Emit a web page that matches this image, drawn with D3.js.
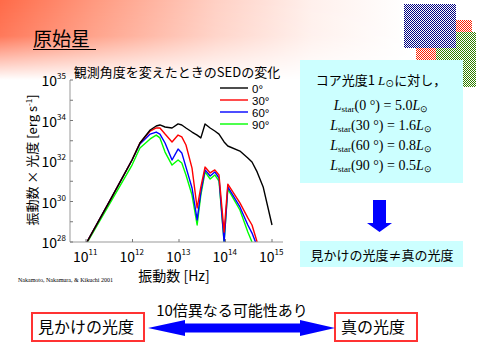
<!DOCTYPE html>
<html><head><meta charset="utf-8">
<script src="https://cdn.jsdelivr.net/npm/d3@7"></script>
<style>body{margin:0;background:#fff}svg{display:block}</style>
</head><body><svg id="c" width="480" height="360"></svg>
<script>
// ---- data (log10 values) ----
const logNu = [11.02,11.52,11.99,12.16,12.38,12.51,12.59,12.70,12.85,12.98,13.06,13.15,13.28,13.39,13.47,13.56,13.67,13.77,13.86,13.97,14.05,14.31,14.48,14.57,14.68,14.81,15.00];
const angles = ["0°","30°","60°","90°"];
const colors = ["#000000","#ff0000","#0000ff","#00ff00"];
const sed0  = [28.00,30.07,32.05,32.89,33.53,33.73,33.78,33.68,33.63,33.83,33.78,33.63,33.43,33.28,33.14,33.83,33.63,33.48,33.33,32.94,32.74,32.49,32.15,31.95,31.46,30.72,28.84];
const sed30 = [28.00,30.07,32.05,32.89,33.48,33.63,33.63,33.33,32.94,33.28,33.19,32.79,31.65,29.68,30.72,31.70,31.41,31.56,31.31,28.49,30.86,29.93,29.19,28.84,28.00,null,null];
const sed60 = [28.00,30.07,32.05,32.84,33.33,33.43,33.33,32.89,32.05,32.59,32.40,31.70,30.67,29.09,30.47,31.56,31.26,31.46,31.16,28.00,30.72,29.73,28.84,28.44,27.80,null,null];
const sed90 = [27.95,29.93,31.80,32.64,33.09,33.28,33.14,32.44,31.80,32.05,31.90,31.31,30.32,28.84,30.32,31.46,31.11,31.31,31.01,28.00,30.62,29.58,28.49,28.00,null,null,null];
const xTickExp = [11,12,13,14,15];
const xTickLabels = ["11","12","13","14","15"];
const yTickExp = [28,30,32,34,36];
const yTickLabels = ["28","30","32","34","35"];
const lumLines = [
  {ang:"(0 °)", val:"= 5.0"},
  {ang:"(30 °)", val:"= 1.6"},
  {ang:"(60 °)", val:"= 0.8"},
  {ang:"(90 °)", val:"= 0.5"}
];
const series = [sed0, sed30, sed60, sed90];

// ---- drawing ----
const svg = d3.select("#c");
const JP = "'Noto Sans CJK JP', sans-serif";
const defs = svg.append("defs");

// background gradient
const gh = defs.append("linearGradient").attr("id","gh").attr("x1",0).attr("x2",1).attr("y1",0).attr("y2",0);
[[0,"#ff6a48"],[0.2,"#ff9a80"],[0.45,"#ffd0c4"],[0.65,"#fff0ec"],[0.85,"#ffffff"]].forEach(s=>gh.append("stop").attr("offset",s[0]).attr("stop-color",s[1]));
const gv = defs.append("linearGradient").attr("id","gv").attr("x1",0).attr("x2",0).attr("y1",0).attr("y2",1);
[[0,"#fff",1],[0.45,"#fff",0.9],[1,"#fff",0]].forEach(s=>gv.append("stop").attr("offset",s[0]).attr("stop-color",s[1]).attr("stop-opacity",s[2]));
defs.append("mask").attr("id","mv").append("rect").attr("width",480).attr("height",80).attr("fill","url(#gv)");
svg.append("rect").attr("width",480).attr("height",80).attr("fill","url(#gh)").attr("mask","url(#mv)");

// checker patterns
function pat(id,col){
  const p = defs.append("pattern").attr("id",id).attr("width",2).attr("height",2).attr("patternUnits","userSpaceOnUse");
  p.append("rect").attr("width",1).attr("height",1).attr("fill",col);
  p.append("rect").attr("x",1).attr("y",1).attr("width",1).attr("height",1).attr("fill",col);
}
pat("pb","#000080"); pat("pr","#ff2000"); pat("pg","#308000");
[[404,4,52,44,"pb"],[456,20,16,12,"pr"],[456,32,20,16,"pg"],[416,48,20,12,"pr"],[436,48,40,12,"pg"],[463,60,13,27,"pg"]]
  .forEach(r=>svg.append("rect").attr("x",r[0]).attr("y",r[1]).attr("width",r[2]).attr("height",r[3]).attr("fill",`url(#${r[4]})`));

// page title
svg.append("text").attr("x",33).attr("y",46).attr("font-family",JP).attr("font-size",19).attr("fill","#000").text("原始星");
svg.append("line").attr("x1",33).attr("x2",96).attr("y1",49.5).attr("y2",49.5).attr("stroke","#000").attr("stroke-width",1);

// chart
const x = d3.scaleLog().domain([1e11,1e15]).range([86,272]);
const y = d3.scaleLog().domain([1e28,1e36]).range([242,80]);
const plotL = 70, plotR = 283, plotT = 80, plotB = 242;

svg.append("text").attr("x",177).attr("y",77).attr("text-anchor","middle").attr("font-family",JP).attr("font-size",13).text("観測角度を変えたときのSEDの変化");

defs.append("clipPath").attr("id","clip").append("rect").attr("x",plotL).attr("y",plotT).attr("width",plotR-plotL).attr("height",plotB-plotT);

const line = d3.line().defined(d=>d[1]!=null).x(d=>x(Math.pow(10,d[0]))).y(d=>y(Math.pow(10,d[1])));
const g = svg.append("g").attr("clip-path","url(#clip)");
series.slice().reverse().forEach((s,i)=>{
  const k = series.length-1-i;
  g.append("path").datum(logNu.map((v,j)=>[v,s[j]])).attr("d",line).attr("fill","none").attr("stroke",colors[k]).attr("stroke-width",1.4).attr("stroke-linejoin","round");
});

// axes frame
svg.append("line").attr("x1",plotL).attr("x2",plotL).attr("y1",plotT).attr("y2",plotB).attr("stroke","#999").attr("stroke-width",1);
svg.append("line").attr("x1",plotL).attr("x2",plotR).attr("y1",plotB).attr("y2",plotB).attr("stroke","#999").attr("stroke-width",1);
// y ticks each decade
d3.range(28,37).forEach(e=>{
  svg.append("line").attr("x1",plotL).attr("x2",plotL+3).attr("y1",y(Math.pow(10,e))).attr("y2",y(Math.pow(10,e))).attr("stroke","#777");
});
yTickExp.forEach((e,i)=>{
  const t = svg.append("text").attr("x",66).attr("y",y(Math.pow(10,e))+6).attr("text-anchor","end").attr("font-family",JP).attr("font-size",14);
  t.append("tspan").text("10");
  t.append("tspan").attr("dy",-7).attr("font-size",8).text(yTickLabels[i]);
});
xTickExp.forEach((e,i)=>{
  const xx = x(Math.pow(10,e));
  svg.append("line").attr("x1",xx).attr("x2",xx).attr("y1",plotB).attr("y2",plotB-3).attr("stroke","#777");
  const t = svg.append("text").attr("x",xx-13).attr("y",262).attr("font-family",JP).attr("font-size",14);
  t.append("tspan").text("10");
  t.append("tspan").attr("dy",-7).attr("font-size",8).text(xTickLabels[i]);
});
svg.append("text").attr("x",174).attr("y",281).attr("text-anchor","middle").attr("font-family",JP).attr("font-size",14).text("振動数 [Hz]");
const yl = svg.append("text").attr("transform","translate(37,160) rotate(-90)").attr("text-anchor","middle").attr("font-family",JP).attr("font-size",13);
yl.append("tspan").text("振動数 × 光度 [erg s");
yl.append("tspan").attr("dy",-5).attr("font-size",8).text("-1");
yl.append("tspan").attr("dy",5).text("]");

// legend
angles.forEach((a,i)=>{
  const ly = 88 + i*12;
  svg.append("line").attr("x1",220).attr("x2",248).attr("y1",ly).attr("y2",ly).attr("stroke",colors[i]).attr("stroke-width",1.4);
  svg.append("text").attr("x",252).attr("y",ly+4.5).attr("font-family","'Liberation Sans', sans-serif").attr("font-size",11.5).text(a);
});

svg.append("text").attr("x",18).attr("y",282).attr("font-family","'Liberation Serif', serif").attr("font-size",6).text("Nakamoto, Nakamura, & Kikuchi 2001");

// info box
svg.append("rect").attr("x",300).attr("y",60).attr("width",163).attr("height",123).attr("fill","#ccffff");
const t0 = svg.append("text").attr("x",381).attr("y",85).attr("text-anchor","middle").attr("font-family",JP).attr("font-size",13);
t0.append("tspan").text("コア光度1 ");
t0.append("tspan").attr("font-family","'Liberation Serif', serif").attr("font-style","italic").text("L");
t0.append("tspan").attr("font-size",9).attr("dy",2).text("⊙");
t0.append("tspan").attr("dy",-2).text("に対し，");
lumLines.forEach((l,i)=>{
  const t = svg.append("text").attr("x",381).attr("y",110+i*20).attr("text-anchor","middle").attr("font-family","'Liberation Serif', serif").attr("font-size",14);
  t.append("tspan").attr("font-style","italic").text("L");
  t.append("tspan").attr("font-size",9).attr("dy",2).text("star");
  t.append("tspan").attr("dy",-2).text(l.ang+"  "+l.val);
  t.append("tspan").attr("font-style","italic").text("L");
  t.append("tspan").attr("font-size",9).attr("dy",2).text("⊙");
});

// down arrow
svg.append("path").attr("d","M373,200 H386 V223 H392 L379.5,232 L367,223 H373 Z").attr("fill","#0000ff");

svg.append("rect").attr("x",300).attr("y",241).attr("width",163).attr("height",26).attr("fill","#ccffff");
svg.append("text").attr("x",382).attr("y",260).attr("text-anchor","middle").attr("font-family",JP).attr("font-size",13).text("見かけの光度≠真の光度");

// bottom
svg.append("text").attr("x",232).attr("y",316).attr("text-anchor","middle").attr("font-family",JP).attr("font-size",15).text("10倍異なる可能性あり");
svg.append("rect").attr("x",32).attr("y",313).attr("width",112).attr("height",28).attr("fill","none").attr("stroke","#ff3333").attr("stroke-width",2);
svg.append("text").attr("x",38).attr("y",333).attr("font-family",JP).attr("font-size",16).text("見かけの光度");
svg.append("rect").attr("x",335).attr("y",313).attr("width",82).attr("height",28).attr("fill","none").attr("stroke","#ff3333").attr("stroke-width",2);
svg.append("text").attr("x",341).attr("y",333).attr("font-family",JP).attr("font-size",16).text("真の光度");
svg.append("path").attr("d","M148,328 L185,320 V323.5 H300 V320 L335,328 L300,336 V332.5 H185 V336 Z").attr("fill","#0000ff");
</script></body></html>
